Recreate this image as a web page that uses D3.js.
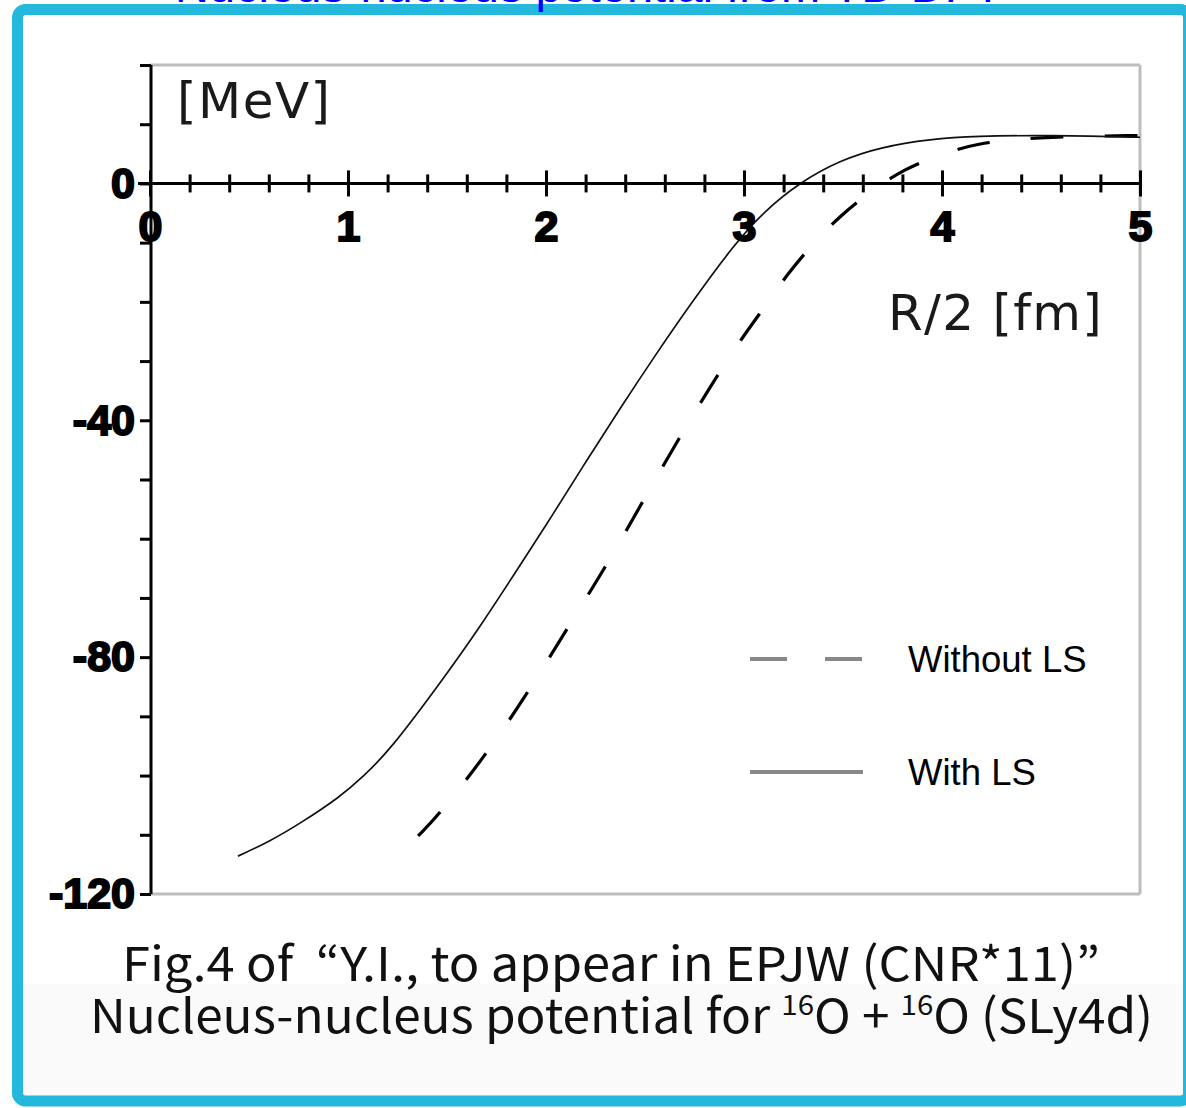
<!DOCTYPE html>
<html>
<head>
<meta charset="utf-8">
<script src="https://cdn.jsdelivr.net/npm/d3@7"></script>
<style>
  html, body { margin: 0; padding: 0; background: #ffffff; }
  svg { display: block; }
</style>
</head>
<body>
<svg id="chart" width="1186" height="1108"></svg>
<script>
// ---------------- data ----------------
const seriesNames = ["Without LS", "With LS"];

// With LS (solid)
const R_withLS = [0.444, 0.60, 0.758, 0.96, 1.076, 1.212, 1.465, 1.667, 1.886, 2.037, 2.205, 2.374, 2.542, 2.727, 2.946, 3.098, 3.283, 3.485, 3.687, 3.939, 4.19, 4.46, 4.75, 5.0];
const V_withLS = [-113.6, -111.2, -108.1, -103.6, -100.2, -95.7, -84.4, -74.9, -63.6, -55.8, -46.8, -38.0, -29.5, -20.5, -10.5, -4.8, 0.2, 3.9, 6.1, 7.5, 8.0, 8.1, 8.0, 7.8];

// Without LS (dashed)
const R_withoutLS = [1.354, 1.470, 1.717, 1.941, 2.150, 2.323, 2.559, 2.761, 2.976, 3.131, 3.212, 3.347, 3.481, 3.645, 3.801, 3.998, 4.183, 4.394, 4.588, 5.0];
const V_withoutLS = [-110.2, -106.2, -95.6, -84.3, -72.8, -63.6, -49.5, -38.0, -26.6, -19.7, -15.6, -10.2, -5.6, -1.2, 2.3, 5.0, 6.8, 7.5, 7.9, 8.1];

// ticks
const xMajorTicks = [0, 1, 2, 3, 4, 5];
const xTickLabels = ["0", "1", "2", "3", "4", "5"];
const xMinorTicks = [0.2,0.4,0.6,0.8,1.2,1.4,1.6,1.8,2.2,2.4,2.6,2.8,3.2,3.4,3.6,3.8,4.2,4.4,4.6,4.8];
const yTicks = [-120, -110, -100, -90, -80, -70, -60, -50, -40, -30, -20, -10, 0, 10, 20];
const yMajorTicks = [-120, -80, -40, 0];
const yTickLabels = ["-120", "-80", "-40", "0"];

const titleText = "Nucleus-nucleus potential from TD-DFT";
const xAxisTitle = "R/2 [fm]";
const yAxisTitle = "[MeV]";
const captionLine1 = "Fig.4 of \u00a0“Y.I., to appear in EPJW (CNR*11)”";

// ---------------- drawing ----------------
const svg = d3.select("#chart");

const x = d3.scaleLinear().domain([0, 5]).range([150, 1140]);
const y = d3.scaleLinear().domain([-120, 20]).range([894, 65]);

// caption band
svg.append("rect").attr("x", 23).attr("y", 984).attr("width", 1160).attr("height", 112)
  .attr("fill", "#fafafa");

// outer blue frame
svg.append("rect")
  .attr("x", 17.5).attr("y", 9.5).attr("width", 1171).attr("height", 1091.5)
  .attr("rx", 8).attr("ry", 8)
  .attr("fill", "none").attr("stroke", "#24b8dd").attr("stroke-width", 11);

// title (mostly cut off above the page)
svg.append("text").attr("x", 175).attr("y", 2)
  .attr("font-family", "Liberation Sans, Arial, sans-serif").attr("font-size", 47)
  .attr("fill", "#0000ff").text(titleText);

// plot frame (gray)
const frame = svg.append("g").attr("stroke", "#bdbdbd").attr("stroke-width", 3).attr("fill", "none");
frame.append("line").attr("x1", x(0)).attr("x2", x(5)).attr("y1", y(20)).attr("y2", y(20));
frame.append("line").attr("x1", x(5)).attr("x2", x(5)).attr("y1", y(20)).attr("y2", y(-120));
frame.append("line").attr("x1", x(0)).attr("x2", x(5)).attr("y1", y(-120)).attr("y2", y(-120));

// curves
const line = d3.line().x(d => x(d[0])).y(d => y(d[1])).curve(d3.curveBasis);
const withLS = R_withLS.map((r, i) => [r, V_withLS[i]]);
const withoutLS = R_withoutLS.map((r, i) => [r, V_withoutLS[i]]);

svg.append("path").datum(withoutLS).attr("d", line)
  .attr("fill", "none").attr("stroke", "#000").attr("stroke-width", 3.2)
  .attr("stroke-dasharray", "33,41");
svg.append("path").datum(withLS).attr("d", line)
  .attr("fill", "none").attr("stroke", "#111").attr("stroke-width", 1.7);

const tickFont = "Liberation Sans, Arial, sans-serif";

// x axis: minor ticks (crossing the axis)
const y0 = y(0);
const xMinor = svg.append("g").attr("transform", `translate(0,${y0 - 9})`)
  .call(d3.axisBottom(x).tickValues(xMinorTicks).tickSize(18).tickFormat(""));
xMinor.select(".domain").remove();
xMinor.selectAll(".tick line").attr("stroke", "#000").attr("stroke-width", 3);

const xMajor = svg.append("g").attr("transform", `translate(0,${y0 - 13})`)
  .call(d3.axisBottom(x).tickValues(xMajorTicks).tickSize(26).tickFormat(""));
xMajor.select(".domain").remove();
xMajor.selectAll(".tick line").attr("stroke", "#000").attr("stroke-width", 3);

// x axis line + labels
const xAxis = svg.append("g").attr("transform", `translate(0,${y0})`)
  .call(d3.axisBottom(x).tickValues(xMajorTicks).tickSize(0).tickPadding(27)
    .tickFormat((d, i) => xTickLabels[i]));
xAxis.select(".domain").attr("stroke", "#000").attr("stroke-width", 3)
  .attr("d", `M${x(0) - 12},0H${x(5)}`);
xAxis.selectAll(".tick text")
  .attr("font-family", tickFont).attr("font-weight", "bold").attr("font-size", 43)
  .attr("fill", "#000").attr("stroke", "#000").attr("stroke-width", 2);

// y axis
const yAxis = svg.append("g").attr("transform", `translate(${x(0) + 1},0)`)
  .call(d3.axisLeft(y).tickValues(yTicks).tickSize(11).tickPadding(5)
    .tickFormat(d => { const k = yMajorTicks.indexOf(d); return k >= 0 ? yTickLabels[k] : ""; }));
yAxis.select(".domain").attr("stroke", "#000").attr("stroke-width", 3)
  .attr("d", `M0,${y(20)}V${y(-120)}`);
yAxis.selectAll(".tick line").attr("stroke", "#000").attr("stroke-width", 3);
yAxis.selectAll(".tick text")
  .attr("font-family", tickFont).attr("font-weight", "bold").attr("font-size", 43)
  .attr("fill", "#000").attr("stroke", "#000").attr("stroke-width", 2);

// axis titles
svg.append("text").attr("x", 177).attr("y", 118)
  .attr("font-family", "DejaVu Sans, sans-serif").attr("font-size", 50)
  .attr("letter-spacing", 1.5)
  .attr("fill", "#1a1a1a").text(yAxisTitle);
svg.append("text").attr("x", 888).attr("y", 330)
  .attr("font-family", "DejaVu Sans, sans-serif").attr("font-size", 50)
  .attr("letter-spacing", 1.3)
  .attr("fill", "#1a1a1a").text(xAxisTitle);

// legend
const legend = svg.append("g");
const legendItems = [
  { name: seriesNames[0], dash: "37,38", ly: 659, ty: 672 },
  { name: seriesNames[1], dash: null, ly: 772, ty: 785 }
];
legendItems.forEach(it => {
  const l = legend.append("line").attr("x1", 750).attr("x2", 863)
    .attr("y1", it.ly).attr("y2", it.ly)
    .attr("stroke", "#888").attr("stroke-width", 4);
  if (it.dash) l.attr("stroke-dasharray", it.dash);
  legend.append("text").attr("x", 908).attr("y", it.ty)
    .attr("font-family", "Liberation Sans, Arial, sans-serif").attr("font-size", 36.5)
    .attr("fill", "#000").text(it.name);
});

// caption
const capFont = "Noto Sans CJK JP, Noto Sans, sans-serif";
svg.append("text").attr("x", 122).attr("y", 981)
  .attr("font-family", capFont).attr("font-size", 47).attr("fill", "#111")
  .attr("textLength", 978).attr("lengthAdjust", "spacingAndGlyphs")
  .text(captionLine1);
const cap2 = svg.append("text").attr("x", 90).attr("y", 1033)
  .attr("font-family", capFont).attr("font-size", 47).attr("fill", "#111")
  .attr("textLength", 1063).attr("lengthAdjust", "spacingAndGlyphs");
cap2.append("tspan").text("Nucleus-nucleus potential for ");
cap2.append("tspan").attr("font-size", 28).attr("dy", -18).text("16");
cap2.append("tspan").attr("dy", 18).text("O + ");
cap2.append("tspan").attr("font-size", 28).attr("dy", -18).text("16");
cap2.append("tspan").attr("dy", 18).text("O (SLy4d)");
</script>
</body>
</html>
